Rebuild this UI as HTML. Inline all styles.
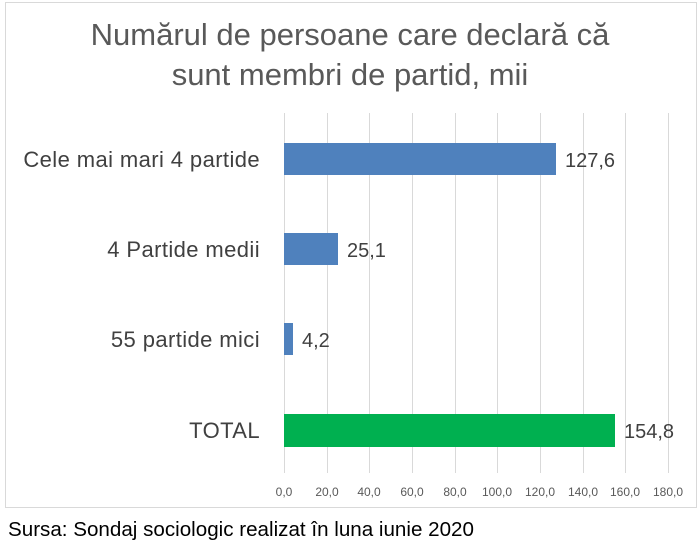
<!DOCTYPE html>
<html><head><meta charset="utf-8"><style>
body{margin:0;background:#fff;width:700px;height:550px;position:relative;font-family:"Liberation Sans",sans-serif;overflow:hidden}
.a{position:absolute;white-space:nowrap}
</style></head><body>
<div class="a" style="left:5px;top:2px;width:692px;height:506px;border:1px solid #d9d9d9;box-sizing:border-box"></div>
<div class="a" style="left:0;width:700px;top:15px;text-align:center;font-size:31px;line-height:40px;color:#595959">Numărul de persoane care declară că<br>sunt membri de partid, mii</div>
<svg class="a" style="left:0;top:0" width="700" height="550">
<g stroke="#d9d9d9" stroke-width="1">
<line x1="284.5" y1="113" x2="284.5" y2="473"/><line x1="327.5" y1="113" x2="327.5" y2="473"/><line x1="369.5" y1="113" x2="369.5" y2="473"/><line x1="412.5" y1="113" x2="412.5" y2="473"/><line x1="455.5" y1="113" x2="455.5" y2="473"/><line x1="497.5" y1="113" x2="497.5" y2="473"/><line x1="540.5" y1="113" x2="540.5" y2="473"/><line x1="583.5" y1="113" x2="583.5" y2="473"/><line x1="625.5" y1="113" x2="625.5" y2="473"/><line x1="668.5" y1="113" x2="668.5" y2="473"/>
</g>
<rect x="284" y="143" width="272" height="32" fill="#4f81bd"/>
<rect x="284" y="233" width="54" height="32" fill="#4f81bd"/>
<rect x="284" y="323" width="9" height="32" fill="#4f81bd"/>
<rect x="284" y="414" width="331" height="33" fill="#00b050"/>
<g font-size="20" fill="#404040" font-family="Liberation Sans,sans-serif">
<text x="565" y="167">127,6</text><text x="347" y="257">25,1</text><text x="302" y="347">4,2</text><text x="624" y="438">154,8</text>
</g>
<g font-size="22" fill="#404040" text-anchor="end" font-family="Liberation Sans,sans-serif" letter-spacing="0.4">
<text x="260" y="167">Cele mai mari 4 partide</text><text x="260" y="257">4 Partide medii</text><text x="260" y="347">55 partide mici</text><text x="260" y="438">TOTAL</text>
</g>
<g font-size="12" fill="#595959" text-anchor="middle" font-family="Liberation Sans,sans-serif">
<text x="284" y="496">0,0</text><text x="327" y="496">20,0</text><text x="369" y="496">40,0</text><text x="412" y="496">60,0</text><text x="455" y="496">80,0</text><text x="497" y="496">100,0</text><text x="540" y="496">120,0</text><text x="583" y="496">140,0</text><text x="625" y="496">160,0</text><text x="668" y="496">180,0</text>
</g>
<text x="8" y="536" font-size="20.6" fill="#000" font-family="Liberation Sans,sans-serif">Sursa: Sondaj sociologic realizat în luna iunie 2020</text>
</svg>
</body></html>
